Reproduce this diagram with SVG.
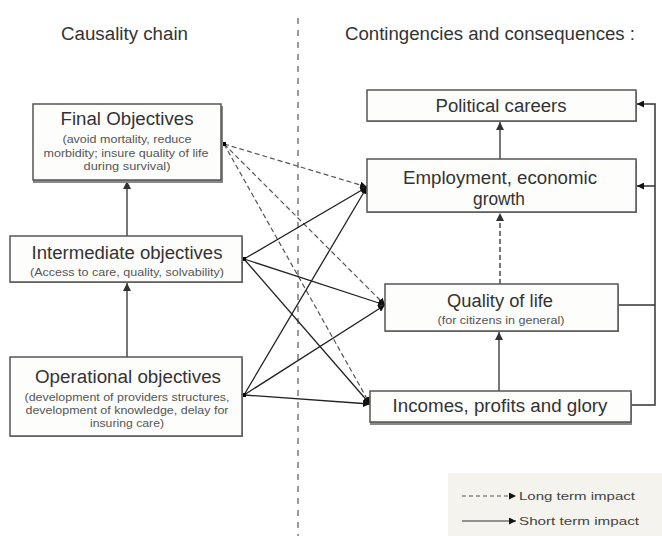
<svg xmlns="http://www.w3.org/2000/svg" width="662" height="536" viewBox="0 0 662 536">
<style>
text{font-family:"Liberation Sans",Arial,sans-serif;fill:#333}
.hdr{font-size:18px}
.t{font-size:18px;text-anchor:middle}
.s{font-size:11px;text-anchor:middle;fill:#555}
.box{fill:#fdfdfb;stroke:#555;stroke-width:1.5}
.sh{fill:#888}
.c{fill:none;stroke:#222;stroke-width:1.3}
.d{fill:none;stroke:#555;stroke-width:1.2;stroke-dasharray:5,3}
.v{fill:none;stroke:#777;stroke-width:2}
.fb{fill:none;stroke:#333;stroke-width:1.5}
.dot{fill:#000}
.lg{font-size:11.5px;fill:#444}
</style>
<defs>
<marker id="a" viewBox="0 0 10 10" refX="10" refY="5" markerWidth="7" markerHeight="7" markerUnits="userSpaceOnUse" orient="auto"><path d="M0,0 L10,5 L0,10 z" fill="#111"/></marker>
<marker id="ag" viewBox="0 0 10 10" refX="10" refY="5" markerWidth="8" markerHeight="8" markerUnits="userSpaceOnUse" orient="auto"><path d="M0,0 L10,5 L0,10 z" fill="#333"/></marker>
</defs>
<rect width="662" height="536" fill="#fff"/>
<line x1="298" y1="18" x2="298" y2="536" stroke="#666" stroke-width="1.3" stroke-dasharray="6,6"/>
<text class="hdr" x="61" y="40" textLength="127" lengthAdjust="spacingAndGlyphs">Causality chain</text>
<text class="hdr" x="345" y="40" textLength="290" lengthAdjust="spacingAndGlyphs">Contingencies and consequences :</text>

<g id="connectors">
<line class="v" x1="127" y1="236" x2="127" y2="181" marker-end="url(#ag)"/>
<line class="v" x1="127" y1="357" x2="127" y2="283" marker-end="url(#ag)"/>
<line class="v" x1="500" y1="159" x2="500" y2="122" marker-end="url(#ag)"/>
<line class="v" x1="500" y1="284" x2="500" y2="213" stroke-dasharray="5,3" marker-end="url(#ag)"/>
<line class="v" x1="499" y1="391" x2="499" y2="332" marker-end="url(#ag)"/>
<line class="d" x1="224" y1="144" x2="367" y2="187" marker-end="url(#a)"/>
<line class="d" x1="224" y1="144" x2="385" y2="305" marker-end="url(#a)"/>
<line class="d" x1="224" y1="144" x2="370" y2="404" marker-end="url(#a)"/>
<line class="c" x1="244" y1="259" x2="367" y2="187" marker-end="url(#a)"/>
<line class="c" x1="244" y1="259" x2="385" y2="305" marker-end="url(#a)"/>
<line class="c" x1="244" y1="259" x2="370" y2="404" marker-end="url(#a)"/>
<line class="c" x1="244" y1="395" x2="367" y2="187" marker-end="url(#a)"/>
<line class="c" x1="244" y1="395" x2="385" y2="305" marker-end="url(#a)"/>
<line class="c" x1="244" y1="395" x2="370" y2="404" marker-end="url(#a)"/>
<rect class="dot" x="222" y="142" width="4" height="4"/>
<rect class="dot" x="242" y="257" width="4" height="4"/>
<rect class="dot" x="242" y="393" width="4" height="4"/>
<polyline class="fb" points="618,305 655,305"/>
<polyline class="fb" points="631,405 655,405 655,104 637,104" marker-end="url(#a)"/>
<line class="fb" x1="655" y1="186" x2="637" y2="186" marker-end="url(#a)"/>
</g>

<g id="final">
<rect class="sh" x="33" y="106" width="190" height="77"/>
<rect class="box" x="33" y="104" width="188" height="76"/>
<text class="t" x="127" y="125" textLength="133" lengthAdjust="spacingAndGlyphs">Final Objectives</text>
<text class="s" x="127" y="143" textLength="129" lengthAdjust="spacingAndGlyphs">(avoid mortality, reduce</text>
<text class="s" x="126" y="157" textLength="165" lengthAdjust="spacingAndGlyphs">morbidity; insure quality of life</text>
<text class="s" x="127" y="170" textLength="87" lengthAdjust="spacingAndGlyphs">during survival)</text>
</g>
<g id="intermediate">
<rect class="sh" x="10" y="238" width="233" height="45"/>
<rect class="box" x="10" y="236" width="232" height="46"/>
<text class="t" x="127" y="259" textLength="191" lengthAdjust="spacingAndGlyphs">Intermediate objectives</text>
<text class="s" x="127" y="276" textLength="194" lengthAdjust="spacingAndGlyphs">(Access to care, quality, solvability)</text>
</g>
<g id="operational">
<rect class="sh" x="10" y="359" width="233" height="78"/>
<rect class="box" x="10" y="357" width="232" height="79"/>
<text class="t" x="128" y="383" textLength="186" lengthAdjust="spacingAndGlyphs">Operational objectives</text>
<text class="s" x="127" y="401" textLength="205" lengthAdjust="spacingAndGlyphs">(development of providers structures,</text>
<text class="s" x="127" y="414" textLength="203" lengthAdjust="spacingAndGlyphs">development of knowledge, delay for</text>
<text class="s" x="127" y="427" textLength="74" lengthAdjust="spacingAndGlyphs">insuring care)</text>
</g>
<g id="political">
<rect class="sh" x="367" y="92" width="270" height="30"/>
<rect class="box" x="367" y="90" width="269" height="31"/>
<text class="t" x="501" y="112" textLength="131" lengthAdjust="spacingAndGlyphs">Political careers</text>
</g>
<g id="employment">
<rect class="sh" x="367" y="161" width="270" height="52"/>
<rect class="box" x="367" y="159" width="269" height="53"/>
<text class="t" x="500" y="184" textLength="194" lengthAdjust="spacingAndGlyphs">Employment, economic</text>
<text class="t" x="499" y="205" textLength="52" lengthAdjust="spacingAndGlyphs">growth</text>
</g>
<g id="quality">
<rect class="sh" x="385" y="286" width="234" height="46"/>
<rect class="box" x="385" y="284" width="233" height="47"/>
<text class="t" x="500" y="307" textLength="106" lengthAdjust="spacingAndGlyphs">Quality of life</text>
<text class="s" x="501" y="324" textLength="127" lengthAdjust="spacingAndGlyphs">(for citizens in general)</text>
</g>
<g id="incomes">
<rect class="sh" x="370" y="393" width="262" height="32"/>
<rect class="box" x="370" y="391" width="261" height="31"/>
<text class="t" x="500" y="412" textLength="215" lengthAdjust="spacingAndGlyphs">Incomes, profits and glory</text>
</g>

<g id="legend">
<rect x="448" y="473" width="214" height="63" fill="#f4f3ee"/>
<line x1="462" y1="496" x2="516" y2="496" stroke="#555" stroke-width="1.2" stroke-dasharray="4,3" marker-end="url(#a)"/>
<text class="lg" x="519" y="500" textLength="116" lengthAdjust="spacingAndGlyphs">Long term impact</text>
<line x1="462" y1="521" x2="516" y2="521" stroke="#333" stroke-width="1.2" marker-end="url(#a)"/>
<text class="lg" x="519" y="525" textLength="120" lengthAdjust="spacingAndGlyphs">Short term impact</text>
</g>
</svg>
